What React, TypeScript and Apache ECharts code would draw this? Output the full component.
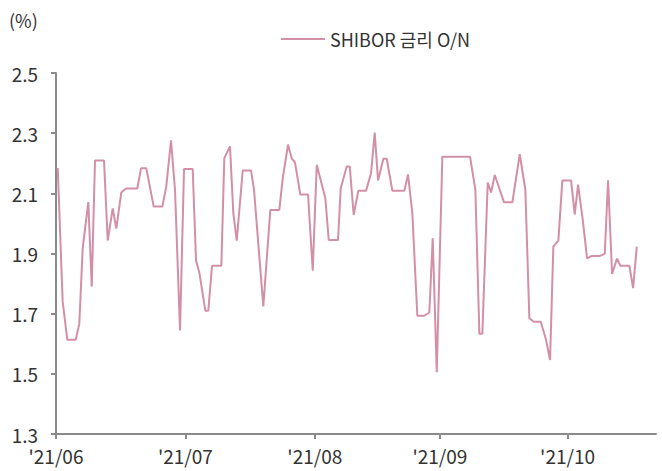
import React, { useEffect, useRef } from "react";
import * as echarts from "echarts";

const dayPos = [
  0.4, 1.55, 2.62, 4.57, 5.4, 6.19, 7.49, 8.28, 9.04, 11.13,
  11.99, 13.15, 13.98, 15.14, 16.23, 18.85, 19.71, 20.94, 22.65, 24.65,
  25.57, 26.66, 27.59, 28.75, 29.68, 31.69, 32.46, 33.22, 34.62, 35.31,
  36.17, 38.33, 39.02, 40.34, 41.11, 41.9, 43.29, 45.21, 45.91, 48.06,
  49.69, 51.77, 52.56, 53.79, 54.65, 55.41, 56.64, 58.43, 59.52, 60.45,
  61.44, 62.44, 63.23, 65.38, 66.01, 67.4, 68.1, 69.02, 70.09, 71.88,
  73.04, 73.89, 74.66, 75.89, 76.68, 77.97, 80.76, 81.61, 82.61, 83.77,
  85.39, 86.55, 87.34, 88.27, 89.57, 95.99, 97.22, 98.15, 98.84, 100.09,
  100.86, 101.72, 103.87, 105.8, 107.51, 108.81, 109.74, 110.76, 112.38, 113.61,
  114.54, 115.3, 116.46, 117.39, 119.41, 120.26, 121.03, 122.12, 123.12, 124.21,
  126.13, 127.22, 127.99, 128.92, 130.07, 130.84, 132.93, 133.79, 134.64,
];

// SHIBOR O/N rate (%)
const rate = [
  2.184, 1.74, 1.613, 1.613, 1.666, 1.918, 2.071, 1.79, 2.209, 2.209,
  1.943, 2.05, 1.983, 2.103, 2.116, 2.116, 2.183, 2.183, 2.056, 2.056,
  2.123, 2.276, 2.112, 1.644, 2.181, 2.181, 1.877, 1.837, 1.71, 1.71,
  1.859, 1.859, 2.217, 2.256, 2.034, 1.943, 2.176, 2.176, 2.112, 1.724,
  2.045, 2.045, 2.15, 2.262, 2.216, 2.202, 2.096, 2.096, 1.843, 2.195,
  2.139, 2.084, 1.945, 1.945, 2.117, 2.189, 2.189, 2.028, 2.109, 2.109,
  2.167, 2.302, 2.143, 2.215, 2.215, 2.109, 2.109, 2.163, 2.034, 1.693,
  1.693, 1.704, 1.951, 1.505, 2.222, 2.222, 2.112, 1.633, 1.633, 2.136,
  2.103, 2.161, 2.07, 2.07, 2.23, 2.112, 1.685, 1.673, 1.673, 1.613,
  1.546, 1.923, 1.943, 2.143, 2.143, 2.03, 2.129, 2.012, 1.884, 1.892,
  1.892, 1.899, 2.143, 1.832, 1.883, 1.859, 1.859, 1.785, 1.923,
];

const monthTicks = [0, 30, 60, 89, 118.6];
const monthLabels = ["'21/06", "'21/07", "'21/08", "'21/09", "'21/10"];

const yMin = 1.3;
const yMax = 2.5;
const yStep = 0.2;

const seriesName = "SHIBOR 금리 O/N";

const FONT = "'Noto Sans CJK KR', 'Noto Sans', sans-serif";
const AXIS_COLOR = "#8a8a8a";
const TEXT_COLOR = "#333333";
const LINE_COLOR = "#d38fa8";

export default function App() {
  const ref = useRef<HTMLDivElement>(null);

  useEffect(() => {
    if (!ref.current) return;
    const chart = echarts.init(ref.current, null, { renderer: "svg" });
    chart.setOption({
      animation: false,
      backgroundColor: "#ffffff",
      textStyle: { fontFamily: FONT },
      title: {
        text: "(%)",
        left: 9,
        top: 11,
        padding: 0,
        textStyle: {
          fontFamily: FONT,
          fontSize: 18,
          fontWeight: "normal",
          color: TEXT_COLOR,
        },
      },
      legend: {
        left: 281,
        top: 30,
        padding: 0,
        icon: "rect",
        itemWidth: 44,
        itemHeight: 2,
        textStyle: { fontFamily: FONT, fontSize: 18, color: TEXT_COLOR },
        data: [seriesName],
      },
      grid: { left: 56, right: 6, top: 73, bottom: 37, containLabel: false },
      xAxis: {
        type: "value",
        min: 0,
        max: 139.1,
        axisLine: { show: true, lineStyle: { color: AXIS_COLOR, width: 2 } },
        axisTick: {
          show: true,
          length: 5,
          customValues: monthTicks,
          lineStyle: { color: AXIS_COLOR, width: 2 },
        },
        axisLabel: {
          customValues: monthTicks,
          margin: 12,
          fontFamily: FONT,
          fontSize: 19,
          color: TEXT_COLOR,
          formatter: (v: number) => {
            const i = monthTicks.findIndex((t) => Math.abs(t - v) < 1e-6);
            return i >= 0 ? monthLabels[i] : "";
          },
        },
        splitLine: { show: false },
      },
      yAxis: {
        type: "value",
        min: yMin,
        max: yMax,
        interval: yStep,
        axisLine: { show: true, lineStyle: { color: AXIS_COLOR, width: 2 } },
        axisTick: { show: true, length: 5, lineStyle: { color: AXIS_COLOR, width: 2 } },
        axisLabel: {
          margin: 18,
          fontFamily: FONT,
          fontSize: 19,
          color: TEXT_COLOR,
          formatter: (v: number) => v.toFixed(1),
        },
        splitLine: { show: false },
      },
      series: [
        {
          name: seriesName,
          type: "line",
          symbol: "none",
          data: dayPos.map((d, i) => [d, rate[i]]),
          lineStyle: { color: LINE_COLOR, width: 2 },
          itemStyle: { color: LINE_COLOR },
        },
      ],
    });
    return () => chart.dispose();
  }, []);

  return (
    <div
      ref={ref}
      style={{ position: "fixed", left: 0, top: 0, width: 662, height: 471 }}
    />
  );
}
